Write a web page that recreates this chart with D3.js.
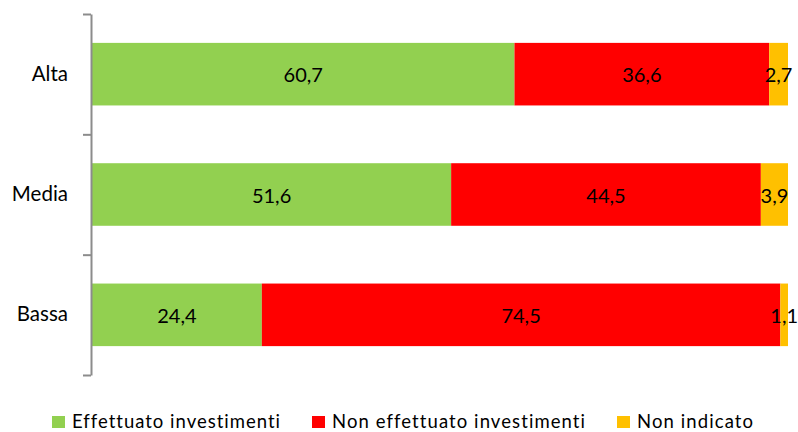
<!DOCTYPE html>
<html>
<head>
<meta charset="utf-8">
<script src="https://cdn.jsdelivr.net/npm/d3@7"></script>
<style>
  html, body { margin: 0; padding: 0; background: #fff; }
  svg { display: block; font-family: Lato, "Open Sans", sans-serif; font-variant-ligatures: none; }
</style>
</head>
<body>
<svg id="chart" width="798" height="432"></svg>
<script>
// Categories (top to bottom) and stacked percentages per series
const categories = ["Alta", "Media", "Bassa"];
const seriesNames = ["Effettuato investimenti", "Non effettuato investimenti", "Non indicato"];
const effettuato = [60.7, 51.6, 24.4];
const nonEffettuato = [36.6, 44.5, 74.5];
const nonIndicato = [2.7, 3.9, 1.1];
const seriesColors = ["#92D050", "#FF0000", "#FFC000"];

const rows = categories.map((c, i) => ({
  cat: c,
  "Effettuato investimenti": effettuato[i],
  "Non effettuato investimenti": nonEffettuato[i],
  "Non indicato": nonIndicato[i]
}));

const svg = d3.select("#chart");
const plot = { left: 91, right: 788, top: 14, bottom: 375 };

const x = d3.scaleLinear().domain([0, 100]).range([plot.left + 1, plot.right]);
const y = d3.scaleBand().domain(categories).range([plot.top, plot.bottom]).paddingInner(0.48).paddingOuter(0.24);
const color = d3.scaleOrdinal().domain(seriesNames).range(seriesColors);

const stacked = d3.stack().keys(seriesNames)(rows);
const fmt = v => d3.format(".1f")(v).replace(".", ",");

const layers = svg.append("g").selectAll("g")
  .data(stacked).join("g")
  .attr("fill", d => color(d.key));

layers.selectAll("rect")
  .data(d => d)
  .join("rect")
  .attr("x", d => x(d[0]))
  .attr("y", d => y(d.data.cat))
  .attr("width", d => x(d[1]) - x(d[0]))
  .attr("height", y.bandwidth());

// Value labels centred in each segment
const labels = svg.append("g");
stacked.forEach(layer => {
  layer.forEach(d => {
    labels.append("text")
      .attr("x", (x(d[0]) + x(d[1])) / 2)
      .attr("y", y(d.data.cat) + y.bandwidth() / 2 + 1)
      .attr("dy", "0.35em")
      .attr("text-anchor", "middle")
      .attr("font-size", 20)
      .attr("fill", "#000")
      .text(fmt(d[1] - d[0]));
  });
});

// Vertical axis: boundary ticks between categories
const yEdge = d3.scaleLinear().domain([0, categories.length]).range([plot.top, plot.bottom]);
const axisG = svg.append("g")
  .attr("transform", `translate(${plot.left},0)`)
  .call(d3.axisLeft(yEdge).tickValues(d3.range(categories.length + 1)).tickFormat("").tickSize(8).tickSizeOuter(0));
axisG.selectAll("path, line").attr("stroke", "#8c8c8c").attr("stroke-width", 2);

// Category labels
const labG = svg.append("g")
  .attr("transform", `translate(${plot.left},0)`)
  .call(d3.axisLeft(y).tickSize(0).tickPadding(23));
labG.select(".domain").remove();
labG.selectAll("text")
  .attr("font-size", 20.5)
  .attr("font-family", "Lato, 'Open Sans', sans-serif")
  .attr("fill", "#000");

// Legend
const legendX = [52, 312, 617];
const legendTextW = [208, 253, 116];
const legend = svg.append("g");
seriesNames.forEach((s, i) => {
  const g = legend.append("g").attr("transform", `translate(${legendX[i]},422)`);
  g.append("rect").attr("x", 0).attr("y", -6).attr("width", 13).attr("height", 12).attr("fill", color(s));
  g.append("text").attr("x", 20).attr("dy", "0.35em").attr("font-size", 18.5).attr("fill", "#000")
    .attr("textLength", legendTextW[i]).attr("lengthAdjust", "spacing")
    .text(s);
});
</script>
</body>
</html>
